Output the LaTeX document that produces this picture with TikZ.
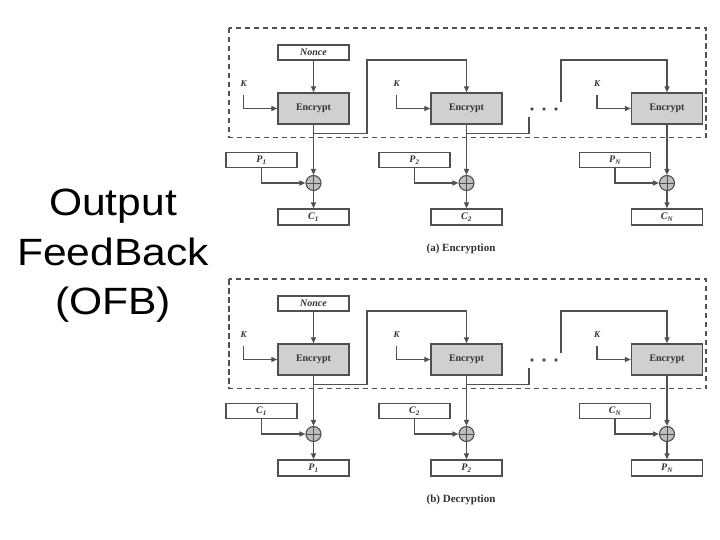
\documentclass[tikz,border=0pt]{standalone}
\usepackage{fontspec}
\usepackage{graphicx}
\setmainfont{Liberation Serif}
\newfontfamily\titlefont{Liberation Sans}
\usetikzlibrary{arrows.meta,calc}
\definecolor{ln}{RGB}{80,80,80}
\definecolor{encfill}{RGB}{208,208,208}
\definecolor{xorfill}{RGB}{190,190,190}
\definecolor{txt}{RGB}{50,50,50}
\begin{document}
\begin{tikzpicture}[x=1pt,y=-1pt,
  box/.style={draw=ln, line width=1.4pt, fill=white, minimum width=71pt, minimum height=15pt,
    inner sep=0pt, text=txt, font=\fontsize{10}{12}\selectfont\bfseries\itshape},
  encbox/.style={box, fill=encfill, minimum height=31pt, font=\fontsize{10}{12}\selectfont\bfseries},
  xorgate/.style={circle, draw=ln, line width=1.1pt, fill=xorfill, minimum size=15pt, inner sep=0pt,
    path picture={\draw[ln, line width=0.9pt] (path picture bounding box.north) -- (path picture bounding box.south)
      (path picture bounding box.west) -- (path picture bounding box.east);}},
  conn/.style={draw=ln, line width=1.35pt},
  arr/.style={conn, -{Triangle[length=6pt,width=5pt]}},
  lbl/.style={text=txt, font=\fontsize{9}{10}\selectfont\bfseries\itshape, inner sep=0pt},
  grp/.style={draw=ln, line width=1.2pt, dash pattern=on 5.5pt off 3.5pt},
  captxt/.style={text=txt, font=\fontsize{11}{13}\selectfont\bfseries, inner sep=0pt}]
\useasboundingbox (0,0) rectangle (720,540);
\fill[white] (0,0) rectangle (720,540);

\node[font=\titlefont\fontsize{38}{49.5}\selectfont, align=center, inner sep=0pt] (title) at (113,256)
  {\scalebox{1.12}[1]{Output}\\\scalebox{1.12}[1]{FeedBack}\\\scalebox{1.12}[1]{(OFB)}};

\foreach \s/\dy/\pa/\pb/\pn/\qa/\qb/\qn/\capt in {
  a/0/P\textsubscript{1}/P\textsubscript{2}/P\textsubscript{N}/C\textsubscript{1}/C\textsubscript{2}/C\textsubscript{N}/(a) Encryption,
  b/251/C\textsubscript{1}/C\textsubscript{2}/C\textsubscript{N}/P\textsubscript{1}/P\textsubscript{2}/P\textsubscript{N}/(b) Decryption}{
  \draw[grp] (229,{28+\dy}) rectangle (706,{137.5+\dy});
  \node[box] (nonce\s) at (313.5,{52.5+\dy}) {Nonce};
  \foreach \c/\x/\p/\q in {1/313.5/\pa/\qa, 2/466.5/\pb/\qb, 3/667/\pn/\qn}{
    \node[encbox] (enc\c\s) at (\x,{108.5+\dy}) {Encrypt};
    \node[lbl] (k\c\s) at ({\x-70},{84+\dy}) {K};
    \node[box] (in\c\s) at ({\x-52},{160+\dy}) {\p};
    \node[xorgate] (xor\c\s) at (\x,{183+\dy}) {};
    \node[box, minimum height=16pt] (out\c\s) at (\x,{217+\dy}) {\q};
    \draw[arr] ($(k\c\s.center)+(0,11)$) |- (enc\c\s.west);
    \draw[arr] (enc\c\s) -- (xor\c\s);
    \draw[arr] (xor\c\s) -- (out\c\s);
    \draw[arr] (in\c\s.south) |- (xor\c\s.west);
  }
  \draw[arr] (nonce\s) -- (enc1\s);
  \coordinate (fa\s) at (367,{60+\dy});
  \draw[arr] ($(enc1\s.south)+(0,9)$) -| (fa\s) -| (enc2\s.north);
  \coordinate (fb\s) at (529,{117+\dy});
  \draw[conn] ($(enc2\s.south)+(0,9)$) -| (fb\s);
  \coordinate (fc\s) at (561,{102+\dy});
  \coordinate (fd\s) at (561,{60+\dy});
  \draw[arr] (fc\s) -- (fd\s) -| (enc3\s.north);
  \foreach \xx in {532,544,556}{\fill[ln] (\xx,{109+\dy}) circle (1.8pt);}
  \node[captxt] (cap\s) at (461,{249+\dy}) {\capt};
}
\end{tikzpicture}
\end{document}
